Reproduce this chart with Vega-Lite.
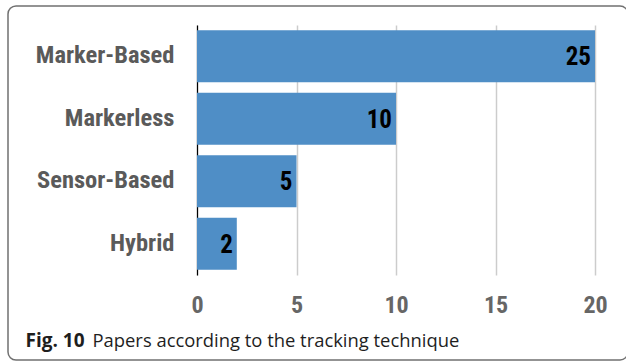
{
  "$schema": "https://vega.github.io/schema/vega-lite/v6.json",
  "autosize": {"type": "none"},
  "width": 620,
  "height": 354,
  "padding": {"left": 8, "top": 6, "right": 0, "bottom": 4},
  "background": "white",
  "config": {
    "view": {"stroke": "#707070", "strokeWidth": 1.5, "cornerRadius": 8, "fill": "white"}
  },
  "data": {
    "values": [
      {"technique": "Marker-Based", "papers": 25},
      {"technique": "Markerless", "papers": 10},
      {"technique": "Sensor-Based", "papers": 5},
      {"technique": "Hybrid", "papers": 2}
    ]
  },
  "encoding": {
    "y": {
      "field": "technique",
      "type": "nominal",
      "sort": null,
      "scale": {"range": [19, 269], "paddingInner": 0.17, "paddingOuter": 0.085},
      "axis": {
        "orient": "left",
        "offset": -189,
        "domain": true,
        "domainColor": "#000000",
        "domainWidth": 1.2,
        "ticks": false,
        "labelPadding": 23,
        "labelFont": "Roboto Condensed, DejaVu Sans Condensed, sans-serif",
        "labelFontWeight": "bold",
        "labelFontSize": 24.5,
        "labelColor": "#5a5a5a",
        "title": "Fig. 10",
        "titleAngle": 0,
        "titleX": -172,
        "titleY": 340,
        "titleAlign": "left",
        "titleBaseline": "alphabetic",
        "titleFont": "Open Sans",
        "titleFontWeight": "bold",
        "titleFontSize": 19,
        "titleColor": "#1e1e1e"
      }
    },
    "x": {
      "field": "papers",
      "type": "quantitative",
      "scale": {"domain": [0, 20], "range": [189, 587], "clamp": true, "nice": false, "zero": true},
      "axis": {
        "orient": "top",
        "values": [0, 5, 10, 15, 20],
        "domain": false,
        "ticks": false,
        "grid": true,
        "gridColor": "#cccccc",
        "gridWidth": 1.5,
        "labelFlush": false,
        "labelBaseline": "alphabetic",
        "labelPadding": -306,
        "labelFont": "Roboto Condensed, DejaVu Sans Condensed, sans-serif",
        "labelFontWeight": "bold",
        "labelFontSize": 24,
        "labelColor": "#666666",
        "title": "Papers according to the tracking technique",
        "titleX": 84,
        "titleY": 340,
        "titleAlign": "left",
        "titleAnchor": "start",
        "titleBaseline": "alphabetic",
        "titleFont": "Open Sans",
        "titleFontWeight": "normal",
        "titleFontSize": 18.4,
        "titleColor": "#1e1e1e"
      }
    }
  },
  "layer": [
    {"mark": {"type": "bar", "color": "#4f8ec6"}},
    {
      "mark": {
        "type": "text",
        "align": "right",
        "baseline": "middle",
        "dx": -4,
        "dy": 1,
        "font": "Roboto Condensed, DejaVu Sans Condensed, sans-serif",
        "fontWeight": "bold",
        "fontSize": 25,
        "color": "#000000"
      },
      "encoding": {"text": {"field": "papers", "type": "quantitative"}}
    }
  ]
}
